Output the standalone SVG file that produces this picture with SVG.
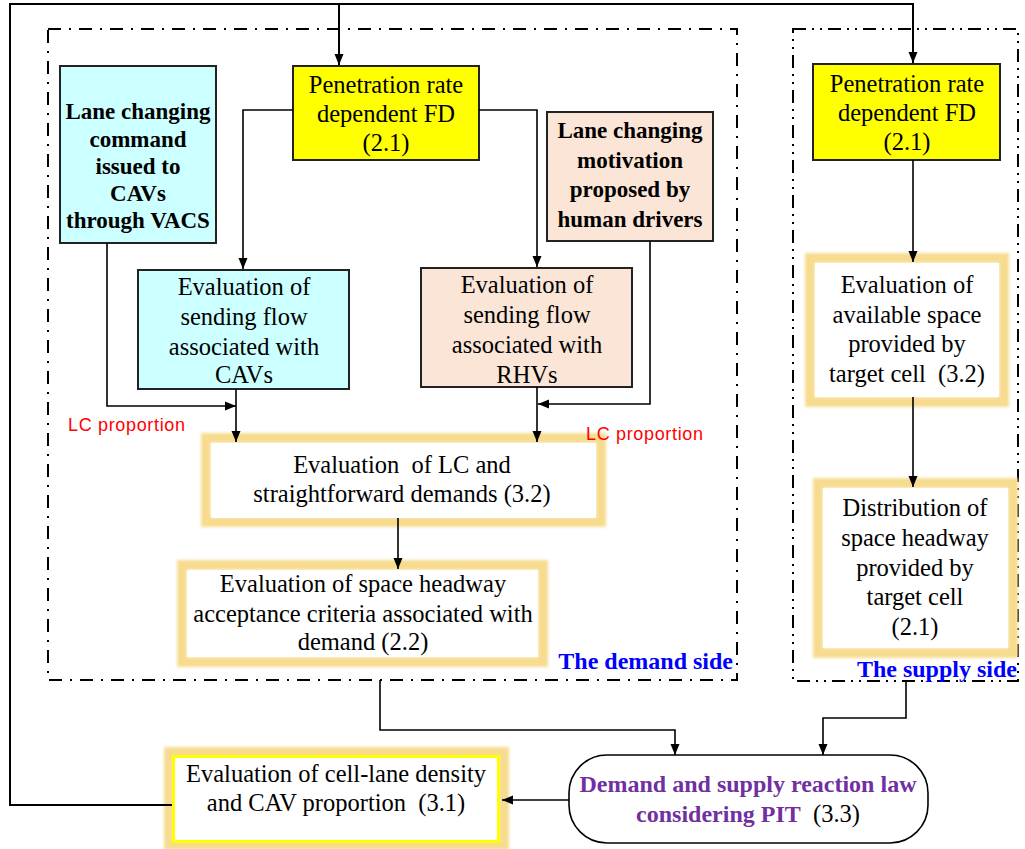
<svg xmlns="http://www.w3.org/2000/svg" width="1025" height="849" viewBox="0 0 1025 849">
<style>
.t{font-family:"Liberation Serif","Times New Roman",serif;font-size:24.5px;fill:#000;text-anchor:middle;white-space:pre}
.b{font-family:"Liberation Serif","Times New Roman",serif;font-size:23px;font-weight:bold;fill:#000;text-anchor:middle}
.side{font-family:"Liberation Serif","Times New Roman",serif;font-size:24px;font-weight:bold;fill:#0000FF;text-anchor:end}
.pur{font-family:"Liberation Serif","Times New Roman",serif;font-size:24px;font-weight:bold;fill:#7030A0;text-anchor:middle;white-space:pre}
.red{font-family:"Liberation Sans",Arial,sans-serif;font-size:18px;fill:#FF0000}
.box{stroke:#222;stroke-width:2}
.glow{fill:none;stroke:#F7DC90;stroke-width:10;filter:url(#blur)}
.inner{fill:#fff;stroke:none}
.c{fill:none;stroke:#000;stroke-width:1.6}
.c2{fill:none;stroke:#000;stroke-width:2}
.dash{fill:none;stroke:#000;stroke-width:2;stroke-dasharray:13 8 2 8}
.dash2{fill:none;stroke:#000;stroke-width:2;stroke-dasharray:13 6 2 6 2 6}
</style>
<defs>
<filter id="blur" x="-10%" y="-10%" width="120%" height="120%"><feGaussianBlur stdDeviation="1.8"/></filter>
<marker id="arr" markerUnits="userSpaceOnUse" markerWidth="12" markerHeight="10" refX="11" refY="5" orient="auto">
<path d="M0,0.5 L11,5 L0,9.5 z" fill="#000"/>
</marker>
</defs>
<rect width="1025" height="849" fill="#fff"/>

<g id="demand-side">
<rect class="dash" x="48" y="29" width="689" height="651"/>
<text class="side" x="733" y="669">The demand side</text>
</g>
<g id="supply-side">
<rect class="dash2" x="793" y="29" width="225" height="652"/>
<text class="side" x="1017" y="677">The supply side</text>
</g>

<g id="pen-left">
<rect class="box" x="293" y="66" width="186" height="94" fill="#FFFF00"/>
<text class="t" x="386" y="93">Penetration rate</text>
<text class="t" x="386" y="122">dependent FD</text>
<text class="t" x="386" y="151">(2.1)</text>
</g>

<g id="lc-command">
<rect class="box" x="60" y="66" width="156" height="177" fill="#CCFFFF"/>
<text class="b" x="138" y="119">Lane changing</text>
<text class="b" x="138" y="147">command</text>
<text class="b" x="138" y="174">issued to</text>
<text class="b" x="138" y="201">CAVs</text>
<text class="b" x="138" y="228">through VACS</text>
</g>

<g id="lc-motivation">
<rect class="box" x="547" y="112" width="166" height="129" fill="#FBE5D6"/>
<text class="b" x="630" y="138">Lane changing</text>
<text class="b" x="630" y="168">motivation</text>
<text class="b" x="630" y="197">proposed by</text>
<text class="b" x="630" y="227">human drivers</text>
</g>

<g id="eval-cav">
<rect class="box" x="138" y="270" width="211" height="119" fill="#CCFFFF"/>
<text class="t" x="244" y="295">Evaluation of</text>
<text class="t" x="244" y="325">sending flow</text>
<text class="t" x="244" y="355">associated with</text>
<text class="t" x="244" y="383">CAVs</text>
</g>

<g id="eval-rhv">
<rect class="box" x="421" y="268" width="211" height="119" fill="#FBE5D6"/>
<text class="t" x="527" y="293">Evaluation of</text>
<text class="t" x="527" y="323">sending flow</text>
<text class="t" x="527" y="353">associated with</text>
<text class="t" x="527" y="383">RHVs</text>
</g>

<g id="eval-lc">
<rect class="glow" x="206" y="438" width="395" height="84"/>
<rect class="inner" x="211" y="443" width="385" height="75"/>
<text class="t" x="402" y="473">Evaluation  of LC and</text>
<text class="t" x="402" y="502">straightforward demands (3.2)</text>
</g>

<g id="eval-headway">
<rect class="glow" x="182" y="565" width="361" height="97"/>
<rect class="inner" x="187" y="570" width="351" height="87"/>
<text class="t" x="363" y="592">Evaluation of space headway</text>
<text class="t" x="363" y="622">acceptance criteria associated with</text>
<text class="t" x="363" y="650">demand (2.2)</text>
</g>

<g id="pen-right">
<rect class="box" x="813" y="64" width="187" height="96" fill="#FFFF00"/>
<text class="t" x="907" y="92">Penetration rate</text>
<text class="t" x="907" y="121">dependent FD</text>
<text class="t" x="907" y="150">(2.1)</text>
</g>

<g id="eval-space">
<rect class="glow" x="810" y="258" width="194" height="144"/>
<rect class="inner" x="815" y="263" width="184" height="134"/>
<text class="t" x="907" y="293">Evaluation of</text>
<text class="t" x="907" y="323">available space</text>
<text class="t" x="907" y="352">provided by</text>
<text class="t" x="907" y="382">target cell  (3.2)</text>
</g>

<g id="distribution">
<rect class="glow" x="818" y="483" width="195" height="170"/>
<rect class="inner" x="823" y="488" width="185" height="160"/>
<text class="t" x="915" y="516">Distribution of</text>
<text class="t" x="915" y="546">space headway</text>
<text class="t" x="915" y="576">provided by</text>
<text class="t" x="915" y="605">target cell</text>
<text class="t" x="915" y="635">(2.1)</text>
</g>

<g id="reaction-law">
<rect x="569" y="755" width="359" height="88" rx="38" ry="38" fill="#fff" stroke="#000" stroke-width="1.6"/>
<text class="pur" x="748" y="792">Demand and supply reaction law</text>
<text class="pur" x="748" y="822">considering PIT<tspan style="font-weight:normal;fill:#000;font-size:24.5px">  (3.3)</tspan></text>
</g>

<g id="cell-lane">
<rect class="glow" x="169" y="752" width="335" height="93"/>
<rect x="173.5" y="756.5" width="325" height="85" fill="#fff" stroke="#FFFF00" stroke-width="3"/>
<text class="t" x="336" y="782">Evaluation of cell-lane density</text>
<text class="t" x="336" y="811">and CAV proportion  (3.1)</text>
</g>

<g id="connectors">
<path class="c2" d="M172,805 H10 V4 H913 V63" marker-end="url(#arr)"/>
<path class="c2" d="M339,4 V65" marker-end="url(#arr)"/>
<path class="c" d="M293,110 H243 V269" marker-end="url(#arr)"/>
<path class="c" d="M479,110 H537 V267" marker-end="url(#arr)"/>
<path class="c" d="M107,243 V406 H236" marker-end="url(#arr)"/>
<path class="c" d="M236,389 V442" marker-end="url(#arr)"/>
<path class="c" d="M650,241 V404 H538" marker-end="url(#arr)"/>
<path class="c" d="M537,387 V442" marker-end="url(#arr)"/>
<path class="c" d="M398,518 V569" marker-end="url(#arr)"/>
<path class="c" d="M380,680 V730 H675 V755" marker-end="url(#arr)"/>
<path class="c" d="M906,681 V718 H823 V755" marker-end="url(#arr)"/>
<path class="c" d="M569,800 H502" marker-end="url(#arr)"/>
<path class="c" d="M913,160 V262" marker-end="url(#arr)"/>
<path class="c" d="M913,397 V487" marker-end="url(#arr)"/>
<text class="red" x="68" y="431" textLength="117">LC proportion</text>
<text class="red" x="586" y="440" textLength="117">LC proportion</text>
</g>
</svg>
